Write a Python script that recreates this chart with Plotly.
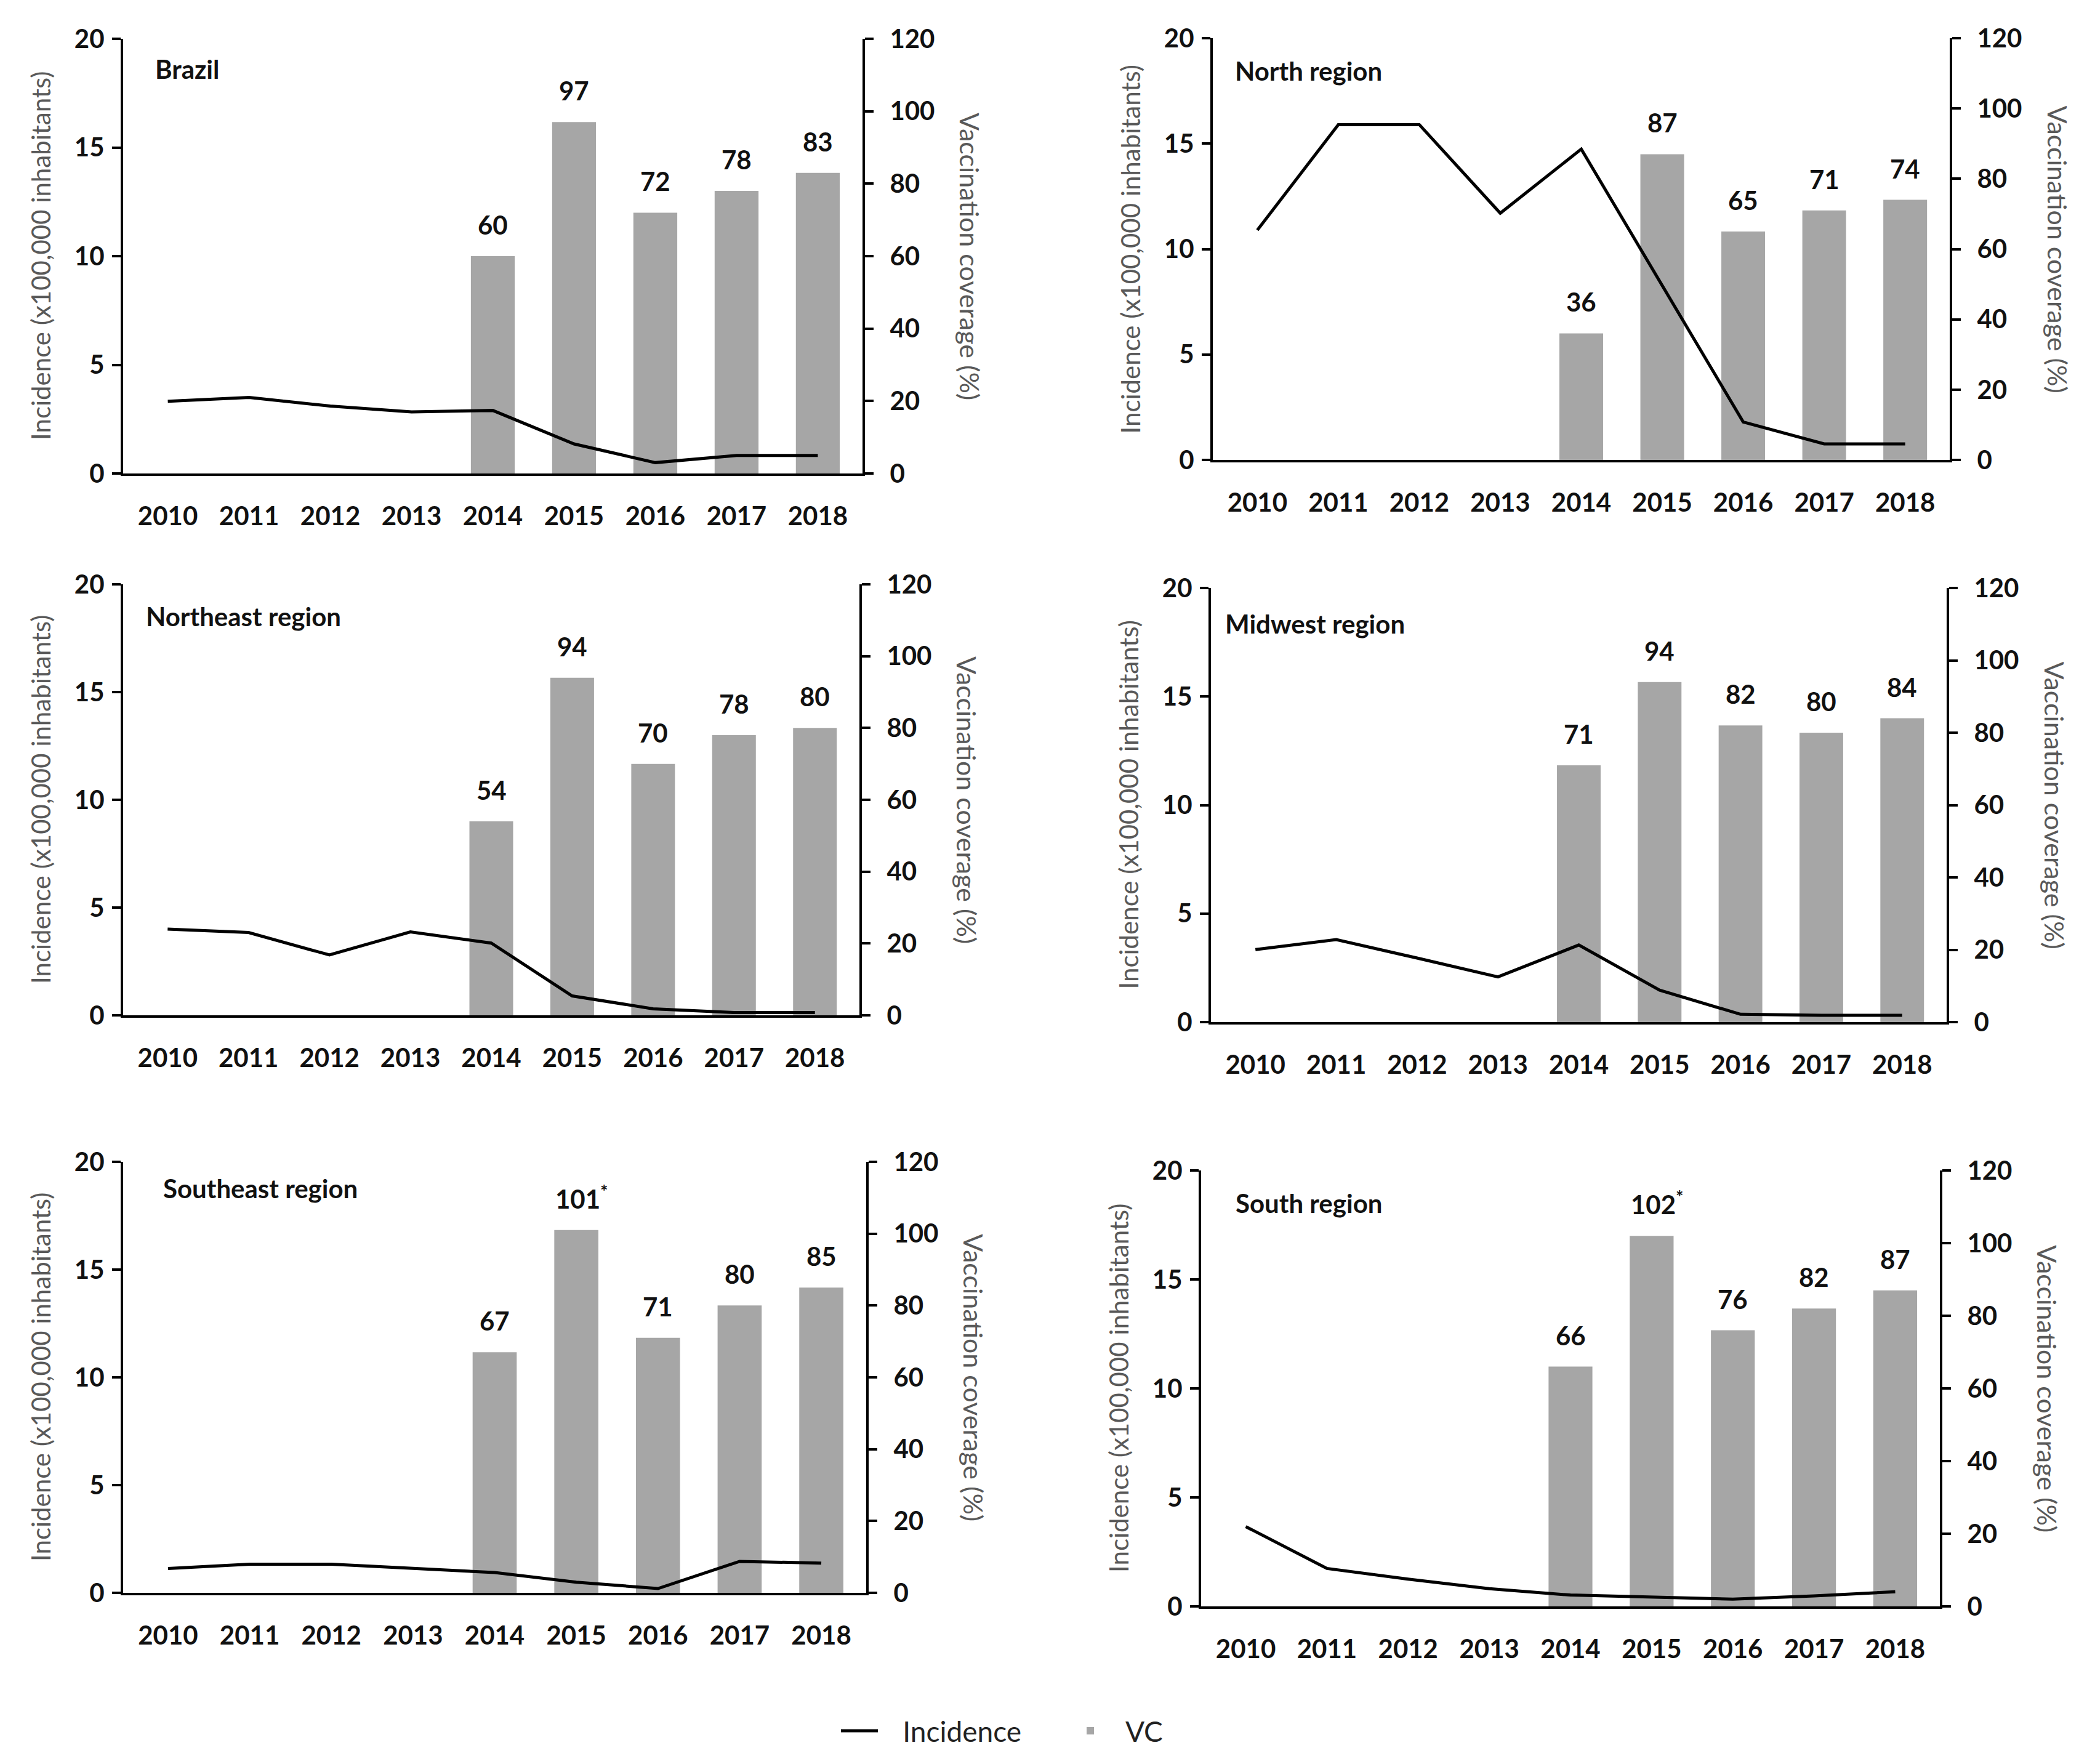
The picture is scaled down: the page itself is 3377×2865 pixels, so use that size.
import plotly.graph_objects as go

# ---------------- data ----------------
years = ["2010", "2011", "2012", "2013", "2014", "2015", "2016", "2017", "2018"]

panel_titles = ["Brazil", "North region", "Northeast region",
                "Midwest region", "Southeast region", "South region"]

brazil_incidence = [3.32, 3.5, 3.1, 2.83, 2.9, 1.36, 0.5, 0.83, 0.83]
brazil_vc = [None, None, None, None, 60, 97, 72, 78, 83]
brazil_vc_labels = ["", "", "", "", "60", "97", "72", "78", "83"]

north_incidence = [10.9, 15.9, 15.9, 11.7, 14.74, 8.3, 1.8, 0.76, 0.76]
north_vc = [None, None, None, None, 36, 87, 65, 71, 74]
north_vc_labels = ["", "", "", "", "36", "87", "65", "71", "74"]

northeast_incidence = [4.0, 3.84, 2.8, 3.87, 3.35, 0.9, 0.3, 0.13, 0.13]
northeast_vc = [None, None, None, None, 54, 94, 70, 78, 80]
northeast_vc_labels = ["", "", "", "", "54", "94", "70", "78", "80"]

midwest_incidence = [3.34, 3.8, 2.95, 2.08, 3.55, 1.47, 0.36, 0.31, 0.31]
midwest_vc = [None, None, None, None, 71, 94, 82, 80, 84]
midwest_vc_labels = ["", "", "", "", "71", "94", "82", "80", "84"]

southeast_incidence = [1.13, 1.33, 1.33, 1.13, 0.94, 0.49, 0.2, 1.46, 1.38]
southeast_vc = [None, None, None, None, 67, 101, 71, 80, 85]
southeast_vc_labels = ["", "", "", "", "67", "101<sup>*</sup>", "71", "80", "85"]

south_incidence = [3.66, 1.74, 1.25, 0.81, 0.52, 0.44, 0.33, 0.48, 0.67]
south_vc = [None, None, None, None, 66, 102, 76, 82, 87]
south_vc_labels = ["", "", "", "", "66", "102<sup>*</sup>", "76", "82", "87"]

series_names = ["Incidence", "VC"]
left_ticks = [0, 5, 10, 15, 20]
right_ticks = [0, 20, 40, 60, 80, 100, 120]

# ---------------- style / layout ----------------
W, H = 3377, 2865
FONT = "Lato"
BAR_COLOR = "#a6a6a6"
TITLE_GRAY = "#595959"
SHIFT_X, SHIFT_Y = -7, -8  # compensate page offset
NBSP = "\u00a0"

# plot areas in pixels: (x0, x1, ytop, ybottom)
areas = [
    (199, 1400, 63, 769),
    (1969, 3166, 62, 747),
    (199, 1395, 949, 1649),
    (1966, 3161, 955, 1660),
    (199, 1406, 1887, 2587),
    (1950, 3150, 1901, 2609),
]
# panel title offsets (dx from left axis, dy from top)
title_offsets = [(50, 49), (34, 53), (35, 52), (21, 58), (63, 43), (54, 53)]

panels = [
    (panel_titles[0], brazil_incidence, brazil_vc, brazil_vc_labels),
    (panel_titles[1], north_incidence, north_vc, north_vc_labels),
    (panel_titles[2], northeast_incidence, northeast_vc, northeast_vc_labels),
    (panel_titles[3], midwest_incidence, midwest_vc, midwest_vc_labels),
    (panel_titles[4], southeast_incidence, southeast_vc, southeast_vc_labels),
    (panel_titles[5], south_incidence, south_vc, south_vc_labels),
]

fig = go.Figure()
layout = {}
annotations = []

tickfont = dict(family=FONT, size=42, color="#111111", weight="bold")

for i, (title, inc, vc, labels) in enumerate(panels):
    xi = "" if i == 0 else str(i + 1)
    ybi = "" if i == 0 else str(2 * i + 1)
    yli = str(2 * i + 2)
    xref, ybref, ylref = "x" + xi, "y" + ybi, "y" + yli

    x0, x1, yt, yb = areas[i]
    x0, x1 = x0 + SHIFT_X, x1 + SHIFT_X
    yt, yb = yt + SHIFT_Y, yb + SHIFT_Y
    xdom = [x0 / W, x1 / W]
    ydom = [1 - yb / H, 1 - yt / H]

    fig.add_trace(go.Bar(
        x=years, y=vc, xaxis=xref, yaxis=ybref,
        name=NBSP * 2 + series_names[1],
        marker=dict(color=BAR_COLOR, line=dict(width=0)),
        showlegend=(i == 0), legendrank=2,
    ))
    fig.add_trace(go.Scatter(
        x=years, y=inc, xaxis=xref, yaxis=ylref,
        name=NBSP * 3 + series_names[0],
        mode="lines", line=dict(color="black", width=5),
        showlegend=(i == 0), legendrank=1,
    ))

    layout["xaxis" + xi] = dict(
        domain=xdom, anchor=ybref, type="category", range=[-0.55, 8.55],
        showline=True, linecolor="black", linewidth=4, ticks="",
        showgrid=False, zeroline=False, tickfont=tickfont,
        ticklabelstandoff=30, automargin=False,
    )
    layout["yaxis" + ybi] = dict(
        domain=ydom, anchor=xref, side="right", range=[0, 120],
        tickvals=right_ticks, showline=True, linecolor="black", linewidth=4,
        ticks="outside", ticklen=14, tickwidth=4, tickcolor="black",
        showgrid=False, zeroline=False, tickfont=tickfont,
        ticklabelstandoff=18, automargin=False,
    )
    layout["yaxis" + yli] = dict(
        overlaying=ybref, anchor=xref, side="left", range=[0, 20],
        tickvals=left_ticks, showline=True, linecolor="black", linewidth=4,
        ticks="outside", ticklen=14, tickwidth=4, tickcolor="black",
        showgrid=False, zeroline=False, tickfont=tickfont,
        ticklabelstandoff=4, automargin=False,
    )

    # bar value labels (x given as category index on the category axis)
    for j, (v, lab) in enumerate(zip(vc, labels)):
        if v is None:
            continue
        annotations.append(dict(
            x=j, y=v, xref=xref, yref=ybref, text=lab, showarrow=False,
            xanchor="center", yanchor="bottom", yshift=24,
            xshift=(9 if "*" in lab else 0),
            font=dict(family=FONT, size=42, color="#111111", weight="bold"),
        ))

    # panel title
    dx, dy = title_offsets[i]
    annotations.append(dict(
        x=xdom[0], y=ydom[1], xref="paper", yref="paper", text=title,
        showarrow=False, xanchor="left", yanchor="middle",
        xshift=dx, yshift=-dy,
        font=dict(family=FONT, size=42, color="#111111", weight="bold"),
    ))
    # left axis title
    annotations.append(dict(
        x=xdom[0], y=(ydom[0] + ydom[1]) / 2, xref="paper", yref="paper",
        text="Incidence (x100,000 inhabitants)", showarrow=False,
        textangle=-90, xanchor="center", yanchor="middle", xshift=-134,
        font=dict(family=FONT, size=42, color=TITLE_GRAY),
    ))
    # right axis title
    annotations.append(dict(
        x=xdom[1], y=(ydom[0] + ydom[1]) / 2, xref="paper", yref="paper",
        text="Vaccination coverage (%)", showarrow=False,
        textangle=90, xanchor="center", yanchor="middle", xshift=175,
        font=dict(family=FONT, size=43, color=TITLE_GRAY),
    ))

fig.update_layout(**layout)
fig.update_layout(
    template="none",
    width=W, height=H,
    margin=dict(l=0, r=0, t=0, b=0, pad=0, autoexpand=False),
    paper_bgcolor="white", plot_bgcolor="rgba(0,0,0,0)",
    bargap=0.46,
    annotations=annotations,
    showlegend=True,
    legend=dict(
        orientation="h", x=(1360 + SHIFT_X) / W, y=1 - (2811 + SHIFT_Y) / H,
        xanchor="left", yanchor="middle",
        font=dict(family=FONT, size=46, color="#222222"),
        itemwidth=60, bgcolor="rgba(0,0,0,0)", traceorder="normal",
        entrywidth=300,
    ),
    font=dict(family=FONT),
)

fig.write_html("out.html")
